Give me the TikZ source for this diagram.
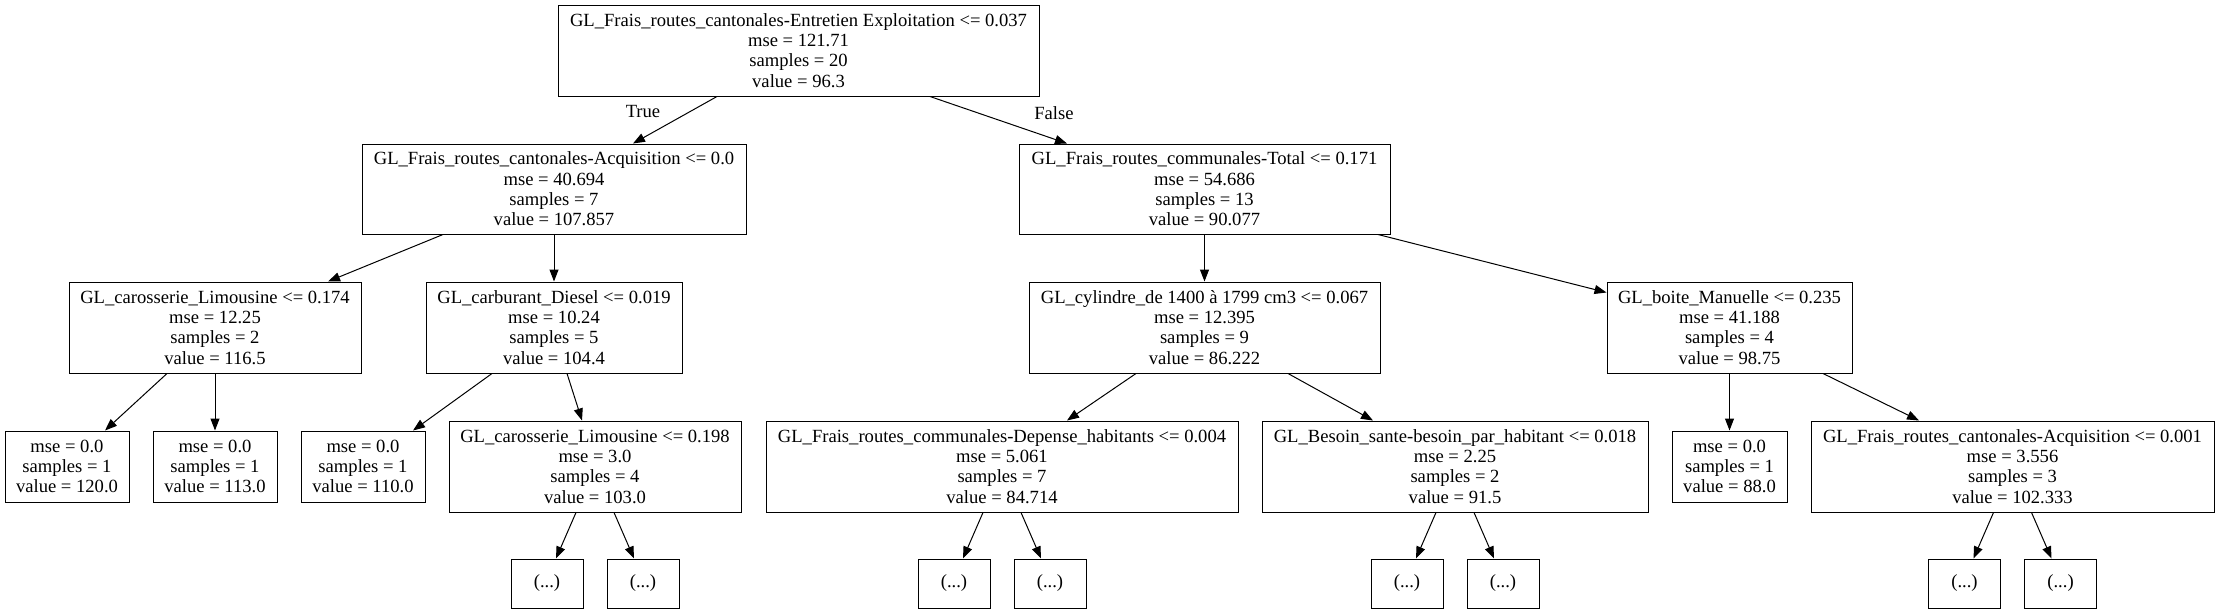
\documentclass[tikz,border=0pt]{standalone}
\usepackage{fontspec}
\setmainfont{Liberation Serif}
\usetikzlibrary{arrows.meta}
\begin{document}
\begin{tikzpicture}[x=1pt,y=-1pt,
  box/.style={draw, rectangle, inner sep=0pt, align=center, line width=1pt,
    font=\fontsize{18.6}{20.3}\selectfont},
  inner/.style={box, minimum height=91pt},
  leaf/.style={box, minimum height=71pt, minimum width=124pt},
  more/.style={box, minimum height=49pt, minimum width=72pt},
  edge/.style={line width=1pt, -{Triangle[length=12pt,width=9pt]}},
  lbl/.style={font=\fontsize{18.6}{20.3}\selectfont, inner sep=0pt}]
\useasboundingbox (0,0) rectangle (2219,613);

\node[inner, minimum width=481pt] (root) at (798.5,50.5)
  {GL\_Frais\_routes\_cantonales-Entretien Exploitation <= 0.037\\mse = 121.71\\samples = 20\\value = 96.3};
\node[inner, minimum width=384pt, minimum height=90pt] (A) at (554,189)
  {GL\_Frais\_routes\_cantonales-Acquisition <= 0.0\\mse = 40.694\\samples = 7\\value = 107.857};
\node[inner, minimum width=371pt, minimum height=90pt] (B) at (1204.5,189)
  {GL\_Frais\_routes\_communales-Total <= 0.171\\mse = 54.686\\samples = 13\\value = 90.077};
\node[inner, minimum width=292pt] (C) at (215,327.5)
  {GL\_carosserie\_Limousine <= 0.174\\mse = 12.25\\samples = 2\\value = 116.5};
\node[inner, minimum width=256pt] (D) at (554,327.5)
  {GL\_carburant\_Diesel <= 0.019\\mse = 10.24\\samples = 5\\value = 104.4};
\node[inner, minimum width=351pt] (E) at (1204.5,327.5)
  {GL\_cylindre\_de 1400 à 1799 cm3 <= 0.067\\mse = 12.395\\samples = 9\\value = 86.222};
\node[inner, minimum width=245pt] (F) at (1729.5,327.5)
  {GL\_boite\_Manuelle <= 0.235\\mse = 41.188\\samples = 4\\value = 98.75};

\node[leaf] (L1) at (67,466.5) {mse = 0.0\\samples = 1\\value = 120.0};
\node[leaf] (L2) at (215,466.5) {mse = 0.0\\samples = 1\\value = 113.0};
\node[leaf] (L3) at (363,466.5) {mse = 0.0\\samples = 1\\value = 110.0};
\node[inner, minimum width=292pt] (G) at (595,466.5)
  {GL\_carosserie\_Limousine <= 0.198\\mse = 3.0\\samples = 4\\value = 103.0};
\node[inner, minimum width=472pt] (H) at (1002,466.5)
  {GL\_Frais\_routes\_communales-Depense\_habitants <= 0.004\\mse = 5.061\\samples = 7\\value = 84.714};
\node[inner, minimum width=386pt] (I) at (1455,466.5)
  {GL\_Besoin\_sante-besoin\_par\_habitant <= 0.018\\mse = 2.25\\samples = 2\\value = 91.5};
\node[leaf, minimum width=115pt] (L4) at (1729.5,466.5) {mse = 0.0\\samples = 1\\value = 88.0};
\node[inner, minimum width=403pt] (J) at (2012.5,466.5)
  {GL\_Frais\_routes\_cantonales-Acquisition <= 0.001\\mse = 3.556\\samples = 3\\value = 102.333};

\node[more] (G1) at (547,583.5) {(...)};
\node[more] (G2) at (643,583.5) {(...)};
\node[more] (H1) at (954,583.5) {(...)};
\node[more] (H2) at (1050,583.5) {(...)};
\node[more] (I1) at (1407,583.5) {(...)};
\node[more] (I2) at (1503,583.5) {(...)};
\node[more] (J1) at (1964.5,583.5) {(...)};
\node[more] (J2) at (2060.5,583.5) {(...)};

\node[lbl] (ltrue) at (643,112) {True};
\node[lbl] (lfalse) at (1054,113) {False};

\draw[edge] ([xshift=-81.5pt]root.south) -- ([xshift=79pt]A.north);
\draw[edge] ([xshift=131.5pt]root.south) -- ([xshift=-137.5pt]B.north);
\draw[edge] ([xshift=-111pt]A.south) -- ([xshift=113pt]C.north);
\draw[edge] (A.south) -- (D.north);
\draw[edge] (B.south) -- (E.north);
\draw[edge] ([xshift=173.5pt]B.south) -- ([yshift=35pt]F.west);
\draw[edge] ([xshift=-48pt]C.south) -- ([xshift=38pt]L1.north);
\draw[edge] (C.south) -- (L2.north);
\draw[edge] ([xshift=-62pt]D.south) -- ([xshift=50pt]L3.north);
\draw[edge] ([xshift=13pt]D.south) -- ([xshift=-13pt]G.north);
\draw[edge] ([xshift=-68.5pt]E.south) -- ([xshift=65pt]H.north);
\draw[edge] ([xshift=83.5pt]E.south) -- ([xshift=-82pt]I.north);
\draw[edge] (F.south) -- (L4.north);
\draw[edge] ([xshift=93.5pt]F.south) -- ([xshift=-93.5pt]J.north);
\foreach \p in {G,H,I,J}{
  \draw[edge] ([xshift=-19pt]\p.south) -- ([xshift=9pt]\p1.north);
  \draw[edge] ([xshift=19pt]\p.south) -- ([xshift=-9pt]\p2.north);
}
\end{tikzpicture}
\end{document}
